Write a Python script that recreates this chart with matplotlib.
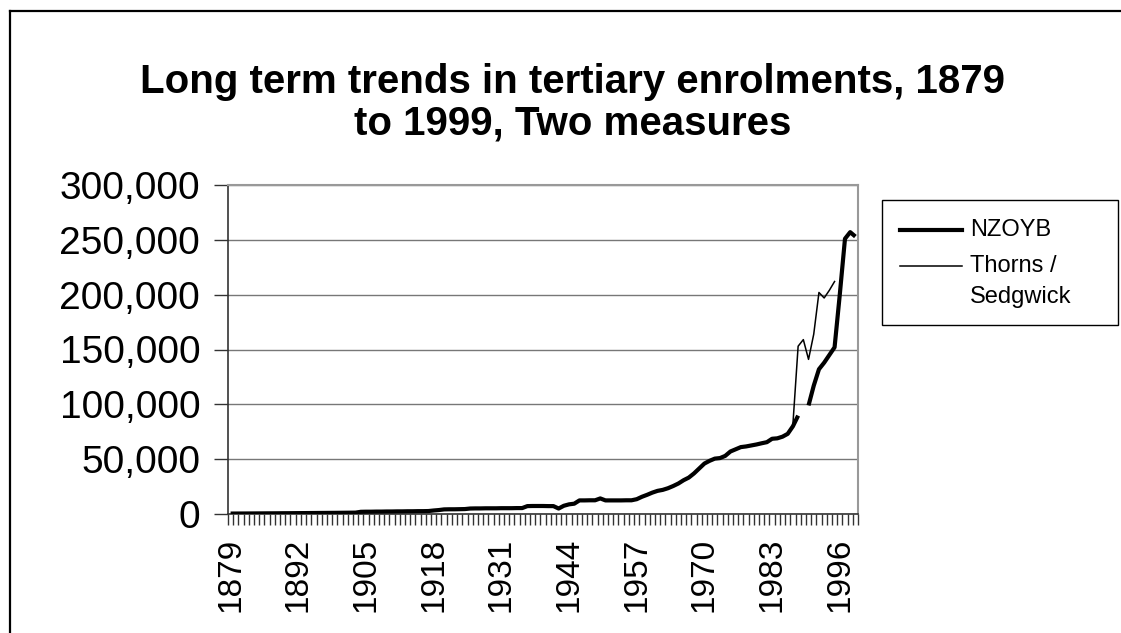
import matplotlib
matplotlib.use('Agg')
import matplotlib.pyplot as plt
from matplotlib.lines import Line2D
from matplotlib.patches import Rectangle
from matplotlib.ticker import FuncFormatter
import numpy as np

plt.rcParams['font.family'] = ['Liberation Sans', 'DejaVu Sans']

# %% data
years = list(range(1879, 2000))
nzoyb = [
    400, 420, 450, 470, 500, 530, 560, 600, 620, 650, 700, 720, 760,
    800, 830, 870, 900, 950, 980, 1020, 1050, 1100, 1150, 1200, 1250,
    2000, 2100, 2100, 2200, 2200, 2300, 2300, 2400, 2400, 2500, 2500,
    2600, 2600, 2700,
    3200, 3600,
    4200, 4300, 4300, 4400, 4500,
    5000, 5100, 5100, 5200, 5200, 5200, 5300, 5300, 5300, 5400, 5400,
    7200, 7300, 7300, 7300, 7200, 7200,
    5000, 7500, 8800, 9400,
    12400, 12400, 12500, 12500,
    14200,
    12400, 12400, 12400, 12400, 12500, 12500,
    13500, 15700, 17500, 19500, 21100, 22000, 23500, 25500, 27800, 30800,
    33200, 37000, 41500, 46000, 48500, 50500, 51000, 53000, 57000, 59000,
    61000, 61600, 62500, 63400, 64500, 65500, 68600, 69000, 70500, 73100,
    80000, 89700,
    np.nan,
    99000, 117000, 132000, 138000, 145000, 152000, 200000, 251000, 257000,
    253000,
]
thorns_years = list(range(1987, 1996))
thorns = [82000, 153000, 159000, 141000, 164000, 202000, 197000, 204000,
          212000]
yticks = [0, 50000, 100000, 150000, 200000, 250000, 300000]
series_names = ['NZOYB', 'Thorns /\nSedgwick']

# %%
W, H = 1121, 633
fig = plt.figure(figsize=(W / 100, H / 100), dpi=100)
ax = fig.add_axes([228 / W, 1 - 514 / H, 630 / W, 329 / H])

xpos = np.arange(len(years))
tpos = [years.index(y) for y in thorns_years]
ax.plot(tpos, thorns, color='k', lw=1.1, zorder=3)
ax.plot(xpos, nzoyb, color='k', lw=3.0, zorder=4,
        solid_joinstyle='round', solid_capstyle='butt')

ax.set_xlim(-0.5, len(years) - 0.5)
ax.set_ylim(0, 300000)
ax.set_yticks(yticks)
ax.yaxis.set_major_formatter(FuncFormatter(lambda v, p: f'{int(v):,}'))
ax.grid(axis='y', color='#777777', lw=1.0)
ax.set_axisbelow(True)

lab_idx = xpos[::13]
ax.set_xticks(lab_idx)
ax.set_xticklabels([str(years[i]) for i in lab_idx], rotation=90,
                   fontsize=24)
ax.set_xticks(np.arange(-0.5, len(years)), minor=True)
ax.tick_params(axis='x', which='major', length=0, pad=17)
ax.tick_params(axis='x', which='minor', length=8, width=1, color='#333333',
               direction='out')
ax.tick_params(axis='y', length=10, width=1, color='#333333', pad=10,
               labelsize=28)

for side in ['top', 'right']:
    ax.spines[side].set_color('#999999')
    ax.spines[side].set_linewidth(1.5)
for side in ['left', 'bottom']:
    ax.spines[side].set_color('#333333')
    ax.spines[side].set_linewidth(1.2)

fig.text(0.5 * (135 + 1010) / W, 1 - 103 / H,
         'Long term trends in tertiary enrolments, 1879\nto 1999, Two measures',
         ha='center', va='center', fontsize=29, fontweight='bold',
         linespacing=1.12)

# legend box, drawn by hand to follow the reference layout
def fx(px):
    return px / W

def fy(py):
    return 1 - py / H

fig.add_artist(Rectangle((fx(882), fy(325)), fx(1118) - fx(882),
                         fy(200) - fy(325), transform=fig.transFigure,
                         facecolor='white', edgecolor='k', lw=1.0))
fig.add_artist(Line2D([fx(900), fx(962)], [fy(230), fy(230)], color='k',
                      lw=3.0, transform=fig.transFigure))
fig.text(fx(970), fy(230), series_names[0], fontsize=17, va='center')
fig.add_artist(Line2D([fx(900), fx(962)], [fy(266), fy(266)], color='k',
                      lw=1.1, transform=fig.transFigure))
fig.text(fx(970), fy(266), series_names[1].split('\n')[0], fontsize=17,
         va='center')
fig.text(fx(970), fy(297), series_names[1].split('\n')[1], fontsize=17,
         va='center')

# outer chart border (left and top visible)
fig.add_artist(Line2D([10 / W, 10 / W], [0, 1 - 11 / H], color='k', lw=1.6,
                      transform=fig.transFigure))
fig.add_artist(Line2D([10 / W, 1], [1 - 11 / H, 1 - 11 / H], color='k',
                      lw=1.6, transform=fig.transFigure))

plt.savefig('out.png', dpi=100)
